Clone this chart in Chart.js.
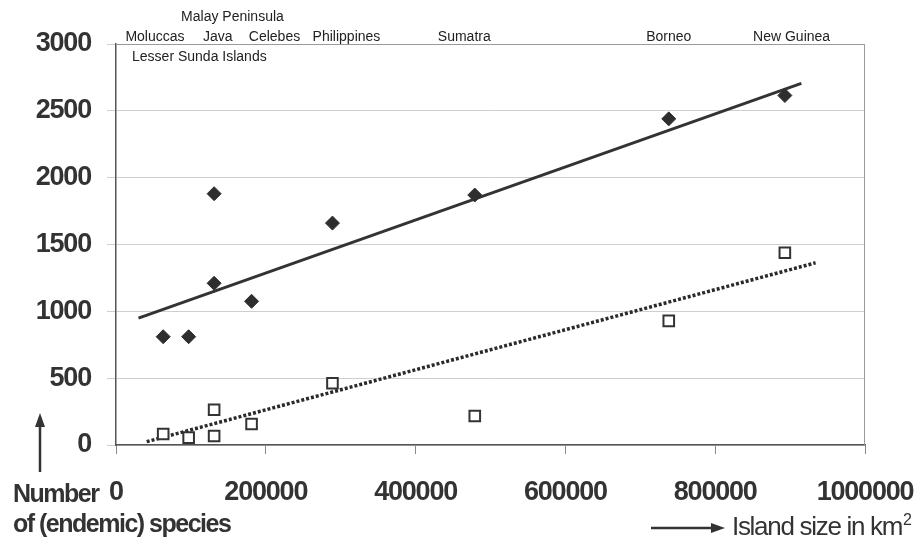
<!DOCTYPE html>
<html>
<head>
<meta charset="utf-8">
<script src="https://cdn.jsdelivr.net/npm/chart.js@4/dist/chart.umd.min.js"></script>
<style>
  html, body { margin: 0; padding: 0; background: #ffffff; }
  #wrap { width: 924px; height: 543px; }
</style>
</head>
<body>
<div id="wrap"><canvas id="c" width="924" height="543"></canvas></div>
<script>
// Island areas (km²) and species counts
const islands = ['Moluccas', 'Lesser Sunda Islands', 'Java', 'Malay Peninsula', 'Celebes', 'Philippines', 'Sumatra', 'Borneo', 'New Guinea'];
const islandArea = [63000, 97000, 131000, 131000, 181000, 289000, 479000, 738000, 893000];
const speciesCount = [810, 810, 1880, 1210, 1075, 1660, 1870, 2440, 2615];
const endemicCount = [82, 55, 264, 67, 157, 462, 217, 929, 1438];

// Fitted trend lines (end points)
const speciesTrendX = [30000, 915000];
const speciesTrendY = [949, 2706];
const endemicTrendX = [41000, 934000];
const endemicTrendY = [25, 1363];

// Axis ticks
const xTicks = [0, 200000, 400000, 600000, 800000, 1000000];
const yTicks = [0, 500, 1000, 1500, 2000, 2500, 3000];

// Island names along the top (x position in km², row)
const topLabels = [
  { text: 'Moluccas', x: 52000, row: 0 },
  { text: 'Java', x: 136000, row: 0 },
  { text: 'Celebes', x: 211600, row: 0 },
  { text: 'Philippines', x: 307700, row: 0 },
  { text: 'Sumatra', x: 465000, row: 0 },
  { text: 'Borneo', x: 738000, row: 0 },
  { text: 'New Guinea', x: 902000, row: 0 },
  { text: 'Malay Peninsula', x: 155500, row: -1 },
  { text: 'Lesser Sunda Islands', x: 21400, row: 1, align: 'left' }
];

const INK = '#333333';
const SANS = "'Liberation Sans', Arial, sans-serif";

const pts = (xs, ys) => xs.map((x, i) => ({ x: x, y: ys[i] }));

const annotations = {
  id: 'annotations',
  beforeDraw(chart) {
    // tighter letter spacing for the large axis numbers
    chart.ctx.letterSpacing = '-1.2px';
  },
  beforeDatasetsDraw(chart) {
    const { ctx, chartArea: a } = chart;
    ctx.save();
    ctx.strokeStyle = '#9a9a9a';
    ctx.lineWidth = 1;
    ctx.beginPath();
    ctx.moveTo(a.left, a.top + 0.5);
    ctx.lineTo(a.right - 0.5, a.top + 0.5);
    ctx.lineTo(a.right - 0.5, a.bottom);
    ctx.stroke();
    ctx.restore();
  },
  afterDraw(chart) {
    const { ctx, chartArea: a, scales } = chart;
    ctx.save();
    ctx.letterSpacing = '0px';
    ctx.fillStyle = '#222222';
    ctx.font = "14px " + SANS;
    ctx.textBaseline = 'middle';
    topLabels.forEach(l => {
      const px = scales.x.getPixelForValue(l.x);
      const py = l.row === 0 ? a.top - 7 : (l.row < 0 ? a.top - 27 : a.top + 13);
      ctx.textAlign = l.align || 'center';
      ctx.fillText(l.text, px, py);
    });

    // y axis caption
    ctx.fillStyle = INK;
    ctx.textAlign = 'left';
    ctx.textBaseline = 'alphabetic';
    ctx.letterSpacing = '-1.5px';
    ctx.font = "bold 25px " + SANS;
    ctx.fillText('Number', 13, 502);
    ctx.fillText('of (endemic) species', 13, 532);

    // upward arrow
    ctx.strokeStyle = INK;
    ctx.lineWidth = 2.5;
    ctx.beginPath();
    ctx.moveTo(40, 472);
    ctx.lineTo(40, 424);
    ctx.stroke();
    ctx.beginPath();
    ctx.moveTo(40, 413);
    ctx.lineTo(35, 427);
    ctx.lineTo(45, 427);
    ctx.closePath();
    ctx.fill();

    // rightward arrow and x axis caption
    ctx.beginPath();
    ctx.moveTo(651, 528);
    ctx.lineTo(713, 528);
    ctx.stroke();
    ctx.beginPath();
    ctx.moveTo(725, 528);
    ctx.lineTo(711, 523);
    ctx.lineTo(711, 533);
    ctx.closePath();
    ctx.fill();

    ctx.letterSpacing = '-1.3px';
    ctx.font = "26px " + SANS;
    const cap = 'Island size in km';
    ctx.fillText(cap, 732, 535);
    const w = ctx.measureText(cap).width;
    ctx.letterSpacing = '0px';
    ctx.font = "16px " + SANS;
    ctx.fillText('2', 732 + w + 1, 525);
    ctx.restore();
  }
};

const tickFont = { family: SANS, size: 27, weight: 'bold' };

new Chart(document.getElementById('c'), {
  type: 'scatter',
  data: {
    datasets: [
      {
        label: 'Species trend',
        data: pts(speciesTrendX, speciesTrendY),
        showLine: true,
        borderColor: INK,
        borderWidth: 3,
        pointRadius: 0,
        order: 1
      },
      {
        label: 'Endemic trend',
        data: pts(endemicTrendX, endemicTrendY),
        showLine: true,
        borderColor: '#2a2a2a',
        borderWidth: 3.5,
        borderDash: [3, 2],
        borderCapStyle: 'butt',
        pointRadius: 0,
        order: 1
      },
      {
        label: 'Species',
        data: pts(islandArea, speciesCount),
        pointStyle: 'rectRot',
        pointRadius: 7,
        backgroundColor: '#2e2e2e',
        borderColor: '#2e2e2e',
        borderWidth: 1,
        order: 0
      },
      {
        label: 'Endemic species',
        data: pts(islandArea, endemicCount),
        pointStyle: 'rect',
        pointRadius: 7.5,
        backgroundColor: '#ffffff',
        borderColor: INK,
        borderWidth: 2,
        order: 0
      }
    ]
  },
  options: {
    responsive: false,
    animation: false,
    devicePixelRatio: 1,
    layout: { padding: { top: 44, right: 59, left: 0, bottom: 0 } },
    plugins: { legend: { display: false }, tooltip: { enabled: false } },
    scales: {
      x: {
        type: 'linear',
        min: 0,
        max: 1000000,
        afterBuildTicks: s => { s.ticks = xTicks.map(v => ({ value: v })); },
        ticks: { color: INK, font: tickFont, padding: 22, maxRotation: 0, autoSkip: false, callback: v => String(v) },
        grid: { drawOnChartArea: false, drawTicks: true, tickLength: 9, color: '#888888' },
        border: { color: '#555555', width: 1.5 },
        afterFit: s => { s.height = 98; s.paddingLeft = 0; s.paddingRight = 0; }
      },
      y: {
        min: 0,
        max: 3000,
        afterBuildTicks: s => { s.ticks = yTicks.map(v => ({ value: v })); },
        ticks: { color: INK, font: tickFont, padding: 16, callback: v => String(v) },
        grid: { color: '#cfcfcf', tickLength: 9, lineWidth: 1 },
        border: { color: '#555555', width: 1.5 },
        afterFit: s => { s.width = 116; s.paddingTop = 0; s.paddingBottom = 0; }
      }
    }
  },
  plugins: [annotations]
});
</script>
</body>
</html>
